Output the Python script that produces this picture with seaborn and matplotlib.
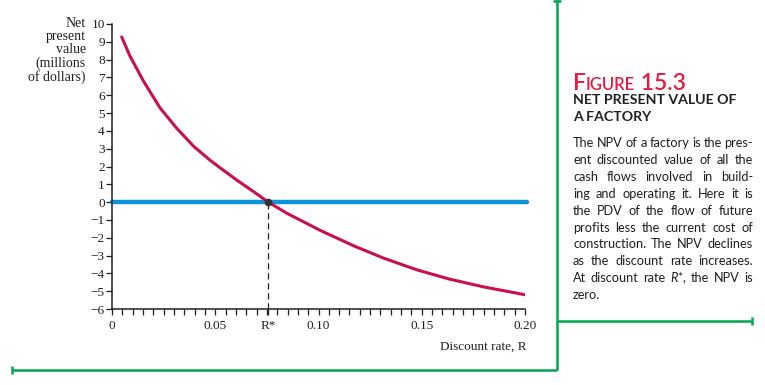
import matplotlib
matplotlib.use("Agg")
import matplotlib.pyplot as plt
import seaborn as sns
import numpy as np
from matplotlib.lines import Line2D

# values
rate = [0.0047, 0.0087, 0.0152, 0.0232, 0.0313, 0.0394, 0.0475, 0.0523, 0.0604,
        0.0684, 0.0757, 0.0846, 0.1007, 0.1170, 0.1314, 0.1476, 0.1637, 0.18, 0.20]
npv = [9.27, 8.2, 6.8, 5.3, 4.15, 3.15, 2.35, 1.93, 1.24,
       0.6, 0.0, -0.62, -1.58, -2.45, -3.14, -3.8, -4.33, -4.76, -5.2]
r_star = 0.0757
xtick_vals = [0, 0.05, r_star, 0.10, 0.15, 0.20]
xtick_labels = ["0", "0.05", "R*", "0.10", "0.15", "0.20"]
ytick_vals = list(range(-6, 11))

body_lines = ["The NPV of a factory is the pres-",
              "ent discounted value of all the",
              "cash flows involved in build-",
              "ing and operating it. Here it is",
              "the PDV of the flow of future",
              "profits less the current cost of",
              "construction. The NPV declines",
              "as the discount rate increases.",
              "At discount rate $\\mathit{R}$*, the NPV is",
              "zero."]

sns.set_style("ticks")
plt.rcParams['font.family'] = ['Liberation Serif', 'DejaVu Serif']
plt.rcParams['mathtext.fontset'] = 'custom'
plt.rcParams['mathtext.it'] = 'Lato:italic'

W, H = 765, 385
fig = plt.figure(figsize=(W / 100, H / 100), dpi=100)
ax = fig.add_axes([112 / W, 1 - 309 / H, (525 - 112) / W, (309 - 24) / H])

def px(x, y):
    return x / W, 1 - y / H

red = '#c8104a'
blue = '#0a93d6'
green = '#00a651'
ink = '#231f20'

ax.axhline(0, xmin=0, xmax=1.005, color=blue, lw=3.2, clip_on=False, zorder=2)
sns.lineplot(x=rate, y=npv, color=red, lw=2.2, ax=ax, zorder=3)
ax.lines[-1].set_solid_joinstyle('round')
ax.plot([r_star, r_star], [-6, 0], color=ink, lw=0.9, ls=(0, (5, 3)), zorder=1)
ax.plot([r_star], [0], 'o', color='#333333', ms=4.5, zorder=4)

ax.set_xlim(0, 0.20)
ax.set_ylim(-6, 10)
ax.set_xticks(xtick_vals)
ax.set_xticklabels(xtick_labels)
ax.set_xticks(np.arange(0, 0.2001, 0.005), minor=True)
ax.set_yticks(ytick_vals)
ax.set_yticklabels([("\u2212%d" % -v) if v < 0 else str(v) for v in ytick_vals])
ax.tick_params(axis='both', which='both', direction='out', length=4.2, width=0.9,
               color=ink, labelcolor=ink, labelsize=9.5)
ax.tick_params(axis='x', pad=4)
ax.tick_params(axis='y', pad=1)
for s in ['top', 'right']:
    ax.spines[s].set_visible(False)
for s in ['left', 'bottom']:
    ax.spines[s].set_color(ink)
    ax.spines[s].set_linewidth(1.1)
ax.grid(False)

fig.text(*px(86, 17), "Net\npresent\nvalue\n(millions\nof dollars)", ha='right', va='top',
         fontsize=10, color=ink, linespacing=1.02)
fig.text(*px(527, 347), "Discount rate, R", ha='right', va='center', fontsize=9.5, color=ink)

# green frame lines
def gline(xs, ys):
    fig.add_artist(Line2D([x / W for x in xs], [1 - y / H for y in ys],
                          color=green, lw=1.8, solid_capstyle='butt'))
gline([557, 557], [0, 370])
gline([553, 561], [1, 1])
gline([557, 752], [321, 321])
gline([752, 752], [317, 325])
gline([12, 557], [370, 370])
gline([12, 12], [366, 374])

renderer = fig.canvas.get_renderer()
sans = ['Lato', 'DejaVu Sans']

# figure number, red small caps
x0 = 573
for txt, sz in [("F", 16.5), ("IGURE", 12), (" 15.3", 16.5)]:
    t = fig.text(*px(x0, 90), txt, ha='left', va='baseline', fontsize=sz,
                 color='#e31b3f', family=sans, fontweight='semibold')
    bb = t.get_window_extent(renderer)
    x0 += bb.width

fig.text(*px(573, 100), "NET PRESENT VALUE OF", ha='left', va='center',
         fontsize=10.2, fontweight='bold', color=ink, family=sans)
fig.text(*px(573, 117), "A FACTORY", ha='left', va='center',
         fontsize=10.2, fontweight='bold', color=ink, family=sans)

# justified body text, size fitted so the tightest line keeps a small word gap
left, right = 573, 753
min_gap = 2.6
fs0 = 10
need = []
for ln in body_lines[:-1]:
    ws = ln.split(" ")
    arts = [fig.text(0, 0, w, fontsize=fs0, family=sans) for w in ws]
    tot = sum(a.get_window_extent(renderer).width for a in arts)
    for a in arts:
        a.remove()
    need.append(fs0 * (right - left - min_gap * (len(ws) - 1)) / tot)
fs = min(need)

y = 143
for i, line in enumerate(body_lines):
    words = line.split(" ")
    if i == len(body_lines) - 1:
        fig.text(*px(left, y), line, ha='left', va='center', fontsize=fs,
                 color=ink, family=sans)
    else:
        arts = [fig.text(0, 0, w, ha='left', va='center', fontsize=fs,
                         color=ink, family=sans) for w in words]
        widths = [a.get_window_extent(renderer).width for a in arts]
        gap = (right - left - sum(widths)) / (len(words) - 1)
        xx = left
        for a, wd in zip(arts, widths):
            a.set_position(px(xx, y))
            xx += wd + gap
    y += 16.9

fig.savefig("out.png", dpi=100)
